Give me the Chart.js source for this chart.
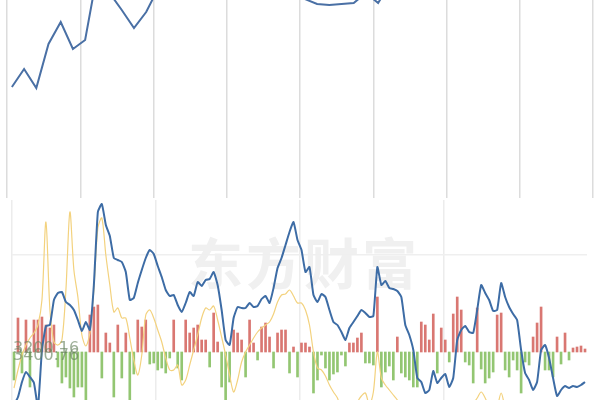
<!DOCTYPE html>
<html>
<head>
<meta charset="utf-8">
<script src="https://cdn.jsdelivr.net/npm/chart.js@4/dist/chart.umd.min.js"></script>
<style>
    html, body { margin: 0; padding: 0; background: #fff; }
    #wrap { position: relative; width: 600px; height: 400px; overflow: hidden; }
    #topChart { position: absolute; left: 0; top: 0; }
    #bottomChart { position: absolute; left: 0; top: 200px; }
    .watermark { position: absolute; left: 188px; top: 220px; font: 700 55px "Noto Sans CJK SC"; color: #f0f0f0; letter-spacing: 3px; white-space: nowrap; }
    .price { position: absolute; left: 13px; font: 16px "DejaVu Sans"; color: rgba(105, 130, 95, 0.65); white-space: nowrap; }
</style>
</head>
<body>
<div id="wrap">
    <div class="watermark">东方财富</div>
    <canvas id="topChart" width="600" height="200"></canvas>
    <canvas id="bottomChart" width="600" height="200"></canvas>
    <div class="price" style="top: 338px;">3200.16</div>
    <div class="price" style="top: 345px;">3400.76</div>
</div>
<script>
// upper panel: index line (values run off the top of the panel where the picture is cut)
const topPrice = [111, 129, 110, 154, 176, 149, 158, 225, 205, 188, 170, 186, 210, 215, 225, 230,
    222, 218, 226, 232, 224, 215, 220, 210, 199, 194, 193, 194, 195, 205, 195, 215,
    222, 228, 230, 226, 234, 238, 230, 236, 240, 235, 242, 245, 240, 246, 250, 248];

// lower panel: blue line, yellow line and red/green bars
const indexLine = [-53, -45, -30, -20, -25, -31, -55, 2, 26, 27, 52, 59, 60, 50, 47, 42,
    32, 21, 30, 22, 67, 140, 148, 127, 116, 94, 92, 90, 80, 52, 54, 69,
    82, 94, 102, 98, 86, 75, 62, 56, 57, 47, 40, 49, 60, 56, 70, 66,
    72, 73, 80, 67, 42, 12, 7, 34, 45, 44, 44, 49, 45, 46, 53, 56,
    49, 64, 84, 94, 107, 120, 130, 112, 102, 80, 85, 57, 50, 58, 55, 42,
    30, 27, 20, 12, 24, 30, 36, 42, 39, 35, 36, 85, 67, 71, 64, 63,
    61, 55, 27, 17, 2, -26, -30, -41, -38, -19, -31, -26, -22, -35, -26, 12,
    22, 26, 20, 19, 42, 67, 59, 52, 41, 42, 69, 55, 45, 38, 32, 2,
    -21, -28, -38, -30, 2, 7, -6, -26, -44, -38, -34, -36, -34, -35, -33, -30];

const avgLine = [-36, -18, -3, 7, 14, 19, 27, 52, 130, 42, 10, 7, 12, 62, 140, 82,
    55, 17, 6, 19, 62, 124, 134, 97, 67, 40, 44, 34, 34, 14, -8, -23,
    -3, 37, 42, 34, 22, 10, -6, -18, -18, -13, -33, -28, -13, 2, 17, 34,
    44, 42, 46, 32, 15, -3, -23, -40, -28, -10, 0, 7, 14, 20, 24, 27,
    30, 38, 50, 57, 58, 62, 56, 49, 49, 42, 27, 0, -16, -18, -24, -33,
    -40, -46, -58, -63, -63, -58, -50, -44, -41, -53, -40, 0, -26, -33, -38, -43,
    -48, -58, -60, -62, -62, -62, -62, -62, -62, -62, -62, -62, -62, -62, -62, -62,
    -62, -62, -58, -52, -46, -40, -46, -55, -60, -55, -41, -55, -62, -62, -62, -62,
    -62, -62, -62, -62, -62, -62, -62, -62, -62, -62, -62, -62, -62, -62, -62, -62];

const flowBars = [-28, 34, -21, 32, -35, 32, 32, 35, 27, 24, 27, -15, -31, -25, -36, -45,
    -35, -35, -48, 37, 45, 47, -26, 19, 9, -45, 27, -26, 19, -48, -22, 32,
    25, 32, -12, -11, -18, -16, -21, -6, 32, -16, -28, 32, 19, 24, 27, 12,
    12, -15, 39, 10, -35, -48, -30, 22, 19, 12, -25, 32, 9, -8, 25, 29,
    15, -16, 19, 22, 22, -21, 5, -25, 9, 9, 5, -41, -28, -3, -16, -28,
    -22, -20, -3, -14, 9, 9, 14, 19, -11, -11, -13, 55, -35, -20, -14, -28,
    15, -21, -25, -28, -35, -35, 30, 27, 12, 38, -21, 24, 12, -10, 38, 55,
    42, -10, -13, -31, 44, -17, -31, -26, -20, 37, 39, -18, -25, -8, -18, -41,
    -10, -13, 15, 29, 45, -18, -18, -25, 15, -12, 19, -8, 4, 5, 6, 3];

const minutes = flowBars.map((_, i) => i);

const topCtx = document.getElementById('topChart').getContext('2d');
new Chart(topCtx, {
    type: 'line',
    data: {
        datasets: [{
            data: topPrice.map((v, i) => ({ x: i + 0.4, y: v })),
            borderColor: '#4a70a5',
            borderWidth: 2,
            pointRadius: 0,
            tension: 0
        }]
    },
    options: {
        responsive: false,
        animation: false,
        layout: { padding: { left: 7, right: 7, top: 0, bottom: 2 } },
        plugins: { legend: { display: false }, tooltip: { enabled: false } },
        scales: {
            x: {
                type: 'linear', min: 0, max: 48,
                ticks: { display: false, stepSize: 6 },
                grid: { color: '#dcdcdc', lineWidth: 1.5, drawTicks: false },
                border: { display: false }
            },
            y: { display: false, min: 0, max: 198 }
        }
    }
});

const bottomCtx = document.getElementById('bottomChart').getContext('2d');
new Chart(bottomCtx, {
    type: 'bar',
    data: {
        labels: minutes,
        datasets: [
            {
                type: 'line', data: indexLine, borderColor: '#3d6ca5', borderWidth: 2,
                pointRadius: 0, tension: 0.15, order: 0
            },
            {
                type: 'line', data: avgLine, borderColor: '#f3d27e', borderWidth: 1.2,
                pointRadius: 0, tension: 0.3, order: 1
            },
            {
                data: flowBars,
                backgroundColor: flowBars.map(v => v >= 0 ? '#d97772' : '#93c672'),
                barThickness: 2, order: 2
            }
        ]
    },
    options: {
        responsive: false,
        animation: false,
        layout: { padding: { left: 12, right: 13, top: 0, bottom: 0 } },
        plugins: { legend: { display: false }, tooltip: { enabled: false } },
        scales: {
            x: {
                ticks: { display: false },
                grid: { color: c => c.index % 36 === 0 ? '#ececec' : 'transparent', lineWidth: 1.5, drawTicks: false, offset: true },
                border: { display: false }
            },
            y: {
                min: -48, max: 152,
                ticks: { display: false },
                grid: { color: '#efefef', lineWidth: 1.5, drawTicks: false },
                border: { display: false },
                afterBuildTicks: s => { s.ticks = [{ value: 97 }]; }
            }
        }
    }
});
</script>
</body>
</html>
